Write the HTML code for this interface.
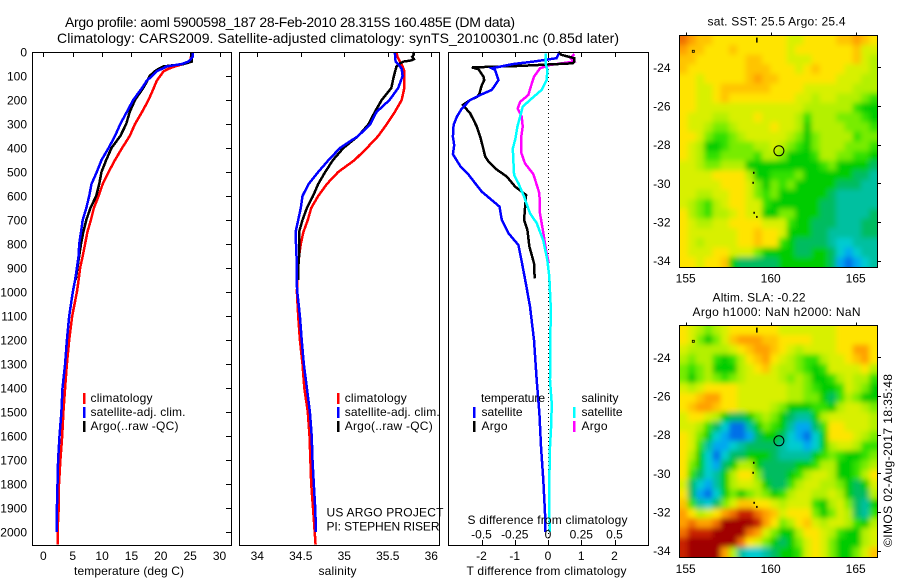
<!DOCTYPE html>
<html>
<head>
<meta charset="utf-8">
<title>Argo profile</title>
<style>
html,body{margin:0;padding:0;background:#fff;}
svg{display:block;font-family:"Liberation Sans",sans-serif;font-size:12px;fill:#000;}
</style>
</head>
<body>
<svg id="chart" xmlns="http://www.w3.org/2000/svg" width="900" height="580" viewBox="0 0 900 580">
<defs>
<filter id="soft" x="-10%" y="-10%" width="120%" height="120%"><feGaussianBlur stdDeviation="2.6"/></filter>
<clipPath id="clip-sst"><rect x="679.5" y="35.5" width="198" height="232"/></clipPath>
<clipPath id="clip-sla"><rect x="679.5" y="325.5" width="198" height="232"/></clipPath>
</defs>
<text x="65" y="27" font-size="14" textLength="450">Argo profile: aoml 5900598_187 28-Feb-2010 28.315S 160.485E (DM data)</text>
<text x="57" y="43" font-size="14" textLength="562">Climatology: CARS2009. Satellite-adjusted climatology: synTS_20100301.nc (0.85d later)</text>

<g id="p1"></g>
<g id="p2"></g>
<g id="p3"></g>
<g id="m1"></g>
<g id="m2"></g>

<g>
<rect x="83" y="393" width="2.5" height="11" fill="#f00"/>
<rect x="83" y="407" width="2.5" height="11" fill="#00f"/>
<rect x="83" y="421" width="2.5" height="11" fill="#000"/>
<text x="90.5" y="402" textLength="62">climatology</text>
<text x="90.5" y="416" textLength="95">satellite-adj. clim.</text>
<text x="90.5" y="430" textLength="88">Argo(..raw -QC)</text>
</g>
<text x="74" y="575" textLength="110">temperature (deg C)</text>

<g>
<rect x="337" y="393" width="2.5" height="11" fill="#f00"/>
<rect x="337" y="407" width="2.5" height="11" fill="#00f"/>
<rect x="337" y="421" width="2.5" height="11" fill="#000"/>
<text x="344.7" y="402" textLength="62">climatology</text>
<text x="344.7" y="416" textLength="95">satellite-adj. clim.</text>
<text x="344.7" y="430" textLength="88">Argo(..raw -QC)</text>
</g>
<text x="326.5" y="516.5" textLength="117">US ARGO PROJECT</text>
<text x="326.5" y="530.5" textLength="113">PI: STEPHEN RISER</text>
<text x="318.5" y="575" textLength="38">salinity</text>

<g>
<text x="481" y="402" textLength="64">temperature</text>
<text x="581.5" y="402" textLength="37">salinity</text>
<rect x="473" y="407" width="2.5" height="11" fill="#00f"/>
<rect x="473" y="421" width="2.5" height="11" fill="#000"/>
<rect x="573" y="407" width="2.5" height="11" fill="#0ff"/>
<rect x="573" y="421" width="2.5" height="11" fill="#f0f"/>
<text x="481.5" y="416" textLength="41">satellite</text>
<text x="481.5" y="430" textLength="26">Argo</text>
<text x="581.5" y="416" textLength="41">satellite</text>
<text x="581.5" y="430" textLength="26">Argo</text>
</g>
<text x="467.5" y="524" textLength="160">S difference from climatology</text>
<text x="466.5" y="575" textLength="160">T difference from climatology</text>

<text x="707.5" y="25.5" textLength="138">sat. SST: 25.5  Argo: 25.4</text>
<text x="712.5" y="301.5" textLength="93">Altim. SLA: -0.22</text>
<text x="692.5" y="316" textLength="168">Argo h1000: NaN h2000: NaN</text>
<text transform="translate(892,547) rotate(-90)" textLength="173">©IMOS 02-Aug-2017 18:35:48</text>
</svg>

<script>
// ---------- profile data ----------
const depthTicks = [0,100,200,300,400,500,600,700,800,900,1000,1100,1200,1300,1400,1500,1600,1700,1800,1900,2000];
const tempTicks = [0,5,10,15,20,25,30];
const salTicks = [34,34.5,35,35.5,36];
const salTickLabels = ['34','34.5','35','35.5','36'];
const dTTicks = [-2,-1,0,1,2];
const dSTicks = [-0.5,-0.25,0,0.25,0.5];
const dSTickLabels = ['-0.5','-0.25','0','0.25','0.5'];

const tempClimDepth = [0,40,50,60,70,80,100,120,150,200,250,300,350,400,450,500,550,600,650,700,750,800,850,900,950,1000,1100,1200,1300,1400,1500,1600,1700,1800,1900,2000,2053];
const tempClim = [25.2,25.1,23.9,22.4,21.3,20.5,19.9,19.3,18.8,17.9,16.8,15.6,14.7,13.4,12.2,11.1,10.1,9.4,8.6,8.1,7.5,7.1,6.7,6.25,6,5.7,4.9,4.4,4,3.7,3.4,3.2,2.9,2.65,2.6,2.4,2.4];
const tempSatDepth = [0,20,40,50,60,70,80,100,120,150,200,250,300,350,400,450,500,550,600,650,700,750,800,850,900,950,1000,1100,1200,1300,1400,1500,1600,1700,1800,1900,2000];
const tempSat = [25.45,25.45,24.7,23.6,21,20.2,19.3,18.5,17.6,16.8,15.3,14.2,13.1,12.2,11.1,9.9,9.1,8.2,7.8,7.3,6.7,6.4,6.1,6,5.7,5.4,5,4.4,4,3.7,3.25,3.07,2.75,2.5,2.4,2.3,2.3];
const tempArgoDepth = [0,40,50,60,70,80,100,120,150,200,250,300,350,400,450,500,550,600,650,700,750,800,850,900,950];
const tempArgo = [25.3,25.3,23.9,20.5,19.6,19,18.1,17.7,17,15.6,14.7,14.1,13.1,11.6,10.7,9.9,9.5,9,8,7.3,6.8,6.4,6.1,5.8,5.5];

const salClimDepth = [0,20,40,60,80,100,150,200,250,300,350,400,450,500,550,600,650,700,750,800,850,900,950,1000,1100,1200,1300,1400,1500,1600,1700,1800,1900,2000,2053];
const salClim = [35.6,35.61,35.64,35.67,35.69,35.69,35.69,35.66,35.58,35.49,35.39,35.26,35.12,34.93,34.8,34.7,34.62,34.58,34.53,34.5,34.48,34.47,34.46,34.455,34.47,34.49,34.52,34.54,34.58,34.6,34.61,34.62,34.64,34.66,34.67];
const salSatDepth = [0,40,50,70,100,150,200,250,300,350,400,450,500,550,600,650,700,750,800,850,900,950,1000,1100,1200,1300,1400,1500,1600,1700,1800,1900,2000];
const salSat = [35.58,35.59,35.62,35.66,35.67,35.62,35.52,35.37,35.3,35.16,34.95,34.82,34.7,34.59,34.52,34.5,34.47,34.44,34.445,34.45,34.45,34.45,34.46,34.49,34.51,34.535,34.57,34.605,34.625,34.635,34.65,34.665,34.675];
const salArgoDepth = [0,10,20,30,35,40,50,60,100,150,200,250,300,350,400,450,500,550,600,650,700,750,800,850,900,950];
const salArgo = [35.79,35.8,35.78,35.8,35.77,35.68,35.63,35.6,35.57,35.54,35.43,35.35,35.28,35.16,34.99,34.87,34.78,34.7,34.64,34.57,34.52,34.48,34.48,34.48,34.47,34.47];

const dTArgoDepth = [0,12,26,40,47,58,64,72,103,117,138,172,186,200,221,256,283,311,353,394,436,456,490,519,561,596,644,700,742,811,880,943];
const dTArgo = [0.31,0.41,0.79,0.79,0.74,-0.84,-2.29,-2.09,-1.94,-1.92,-1.99,-2.06,-2.12,-2.34,-2.56,-2.34,-2.24,-2.14,-2.04,-1.96,-1.89,-1.79,-1.54,-1.24,-0.99,-0.66,-0.69,-0.72,-0.62,-0.56,-0.42,-0.4];
const dTSatDepth = [6,26,40,50,68,75,117,158,179,200,235,269,304,353,388,426,475,511,547,582,617,644,700,755,804,873,970,1061,1200,1367,1505,1644,1783,1922,2000];
const dTSat = [0.33,0.26,-0.44,-1.04,-1.69,-1.59,-1.49,-1.69,-2.04,-2.34,-2.59,-2.74,-2.84,-2.86,-2.82,-2.86,-2.64,-2.39,-2.19,-1.99,-1.69,-1.46,-1.39,-1.19,-0.89,-0.79,-0.66,-0.54,-0.42,-0.34,-0.26,-0.21,-0.14,-0.09,-0.08];
const dSSatDepth = [6,47,75,117,158,200,228,269,311,361,403,456,512,548,603,672,713,786,866,936,1061,1367,1464,1547,1644,1783,1922,2000];
const dSSat = [-0.015,-0.018,-0.005,-0.01,-0.048,-0.135,-0.19,-0.21,-0.23,-0.245,-0.265,-0.26,-0.255,-0.222,-0.18,-0.135,-0.085,-0.035,-0.005,0.01,0.02,0.015,0.028,0.025,0.015,0.01,0.01,0.015];
const dSArgoDepth = [8,26,40,54,68,103,146,179,208,236,269,311,361,417,464,509,589,673,753,825,880];
const dSArgo = [0.198,0.17,0.195,0.015,-0.06,-0.105,-0.13,-0.148,-0.21,-0.228,-0.198,-0.19,-0.203,-0.203,-0.173,-0.11,-0.065,-0.06,-0.035,-0.015,0.005];

// ---------- map data ----------
const lonTicks = [155,160,165];
const latTicks = [-24,-26,-28,-30,-32,-34];
const floatLon = [160.485];
const floatLat = [-28.315];
const coastLon = [159.2,155.45,159.02,158.98,159.04,159.2];
const coastLat = [-22.54,-23.2,-29.48,-30,-31.55,-31.76];

// Colour level of each half-degree cell, north to south.
const sstRows = [
[13,12,11,11,10,10,10,10,10,10,10,10,10,9,9,10,10,10,10,11,11,12,11,10],
[12,11,11,10,10,10,11,10,10,10,10,10,10,9,10,10,10,10,10,10,10,11,9,9],
[11,11,10,10,10,10,10,10,11,11,10,10,10,9,9,9,10,10,10,10,10,11,9,8],
[11,10,10,10,10,10,10,10,11,11,11,10,10,10,9,10,11,10,10,10,9,9,9,8],
[10,10,9,10,10,10,10,10,11,12,11,11,10,10,10,10,10,10,10,9,9,9,8,8],
[10,10,9,9,10,11,11,11,11,11,11,10,10,10,10,9,9,9,9,9,9,8,8,8],
[10,10,9,9,10,11,10,10,10,10,10,10,10,10,9,9,8,9,9,8,8,8,7,6],
[10,10,9,9,9,9,9,9,9,9,9,9,9,9,9,8,8,8,8,8,8,6,5,5],
[10,9,9,9,8,8,9,9,9,10,9,9,9,9,8,6,8,8,8,7,7,7,6,5],
[10,9,9,8,7,7,8,9,9,9,9,10,9,9,8,5,8,8,8,8,7,7,7,6],
[10,10,9,7,6,6,7,8,9,9,9,9,9,8,7,5,7,8,8,8,8,6,7,7],
[10,9,8,5,5,6,7,7,7,8,8,9,8,7,6,5,7,8,8,8,7,7,7,6],
[10,9,8,6,6,7,7,7,7,6,8,8,7,5,5,5,6,8,8,7,7,6,6,5],
[9,9,8,7,7,8,8,8,5,5,5,5,5,5,5,5,5,6,7,5,5,5,5,4],
[9,9,9,9,10,10,10,10,8,5,5,6,6,6,7,5,5,5,5,5,5,4,4,3],
[9,9,9,9,9,10,10,10,9,7,5,7,6,7,5,5,5,5,5,4,4,4,3,3],
[9,9,8,8,9,9,10,10,9,7,6,7,5,5,5,5,5,5,4,3,3,3,3,3],
[9,8,7,6,8,9,10,10,9,9,6,5,5,5,5,5,5,4,4,3,3,3,3,3],
[10,8,7,6,8,8,9,10,9,9,5,5,7,7,5,5,5,4,4,3,3,3,3,4],
[10,9,8,8,9,9,10,10,10,10,9,9,9,6,5,5,4,4,4,3,3,3,4,4],
[10,9,9,9,9,9,9,10,10,11,10,10,9,5,5,5,4,4,3,3,3,3,4,4],
[10,9,8,9,9,9,9,10,10,11,10,10,6,5,4,4,4,4,3,2,2,3,3,3],
[10,9,9,9,10,10,9,9,9,7,5,5,5,5,4,4,5,5,4,2,1,2,3,3],
[10,10,9,10,10,11,5,4,4,4,4,4,5,5,5,5,5,5,4,1,0,1,2,3]
];
const slaRows = [
[10,9,8,7,8,9,10,10,10,10,10,10,9,9,9,9,9,9,9,10,10,10,10,10],
[10,9,7,5,7,9,11,12,12,12,11,11,10,10,10,10,9,9,9,10,10,10,10,10],
[9,8,8,8,8,8,9,10,11,12,12,11,10,9,8,9,9,9,9,10,10,12,12,10],
[8,7,8,8,6,5,6,8,10,11,12,10,9,8,7,6,6,8,9,9,10,11,12,10],
[7,6,7,8,5,5,5,8,9,10,11,9,8,8,7,6,5,6,9,9,9,9,10,8],
[7,5,7,8,7,6,7,8,9,9,9,9,8,7,8,7,5,5,6,8,9,8,8,6],
[9,8,9,10,10,10,10,9,9,9,9,9,9,8,8,7,6,5,5,6,9,8,7,5],
[10,10,11,12,12,10,10,9,9,9,9,9,9,8,8,7,7,5,4,6,8,7,5,5],
[10,11,12,12,11,10,10,9,9,9,9,8,7,5,5,5,6,6,5,8,9,9,8,7],
[9,10,10,9,8,5,4,4,5,7,8,7,5,4,3,3,5,8,9,9,9,9,9,8],
[9,9,8,6,4,2,0,0,3,5,7,6,5,3,1,1,4,6,10,10,9,9,9,8],
[10,9,7,5,2,1,0,0,1,4,5,5,4,2,1,0,2,5,10,10,10,9,8,7],
[10,9,6,3,1,1,2,3,4,4,4,4,3,2,2,1,2,5,8,9,9,8,6,6],
[10,8,5,2,0,2,4,4,5,5,5,4,3,3,3,3,5,6,7,6,5,5,6,7],
[10,7,5,2,1,4,5,8,8,5,4,4,4,4,5,5,6,8,8,5,5,6,7,8],
[10,6,4,2,3,5,8,10,10,7,4,4,4,5,6,8,9,9,8,5,5,6,8,10],
[9,4,2,1,3,5,8,9,9,8,5,4,4,6,8,9,9,8,8,7,5,4,5,9],
[10,4,1,0,2,5,7,5,7,8,7,5,6,8,9,9,8,8,9,8,5,4,4,8],
[11,6,3,2,4,7,9,11,11,10,10,9,8,9,9,9,6,5,8,9,7,4,3,5],
[12,10,8,9,10,12,13,14,14,13,12,11,9,10,10,10,7,5,7,9,8,4,3,6],
[12,13,12,12,13,15,15,15,15,14,12,10,7,8,10,11,9,8,9,9,8,6,5,8],
[13,14,14,14,15,15,15,15,13,12,9,7,5,5,8,10,10,9,8,6,5,5,8,9],
[14,15,15,15,15,15,15,13,10,9,7,5,4,5,7,9,10,9,7,5,5,5,8,9],
[14,15,15,15,15,12,8,3,2,2,3,4,5,5,6,9,10,9,7,5,5,7,9,11]
];

// ---------- scales and helpers ----------
const NS = 'http://www.w3.org/2000/svg';
const levelColors = ['#0070e8','#00a8f0','#00ccd0','#00c0a0','#00bc60','#00cc00','#30e000','#78ec00','#b4f000','#d8f000','#ffe400','#ffc400','#ffa000','#f07000','#c82000','#a00000'];
const yDepth = d => 52 + 0.24 * d;
const xTemp = t => 43.4 + 5.87 * t;
const xSal = s => 257.3 + 87 * (s - 34);
const xDT = t => 548 + 33.25 * t;
const xDS = s => 548 + 133 * s;
const xLon = lon => 685.7 + 17 * (lon - 155);
const ySst = lat => 67.3 + 19.34 * (-24 - lat);
const ySla = lat => 357.3 + 19.34 * (-24 - lat);

function node(tag, parent) {
  const el = document.createElementNS(NS, tag);
  parent.appendChild(el);
  return el;
}
function label(parent, name, str, x, y, anchor) {
  const t = node('text', parent);
  
  
  t.setAttribute('x', x);
  t.setAttribute('y', y);
  t.setAttribute('text-anchor', anchor);
  t.textContent = str;
}
function seg(parent, name, x1, y1, x2, y2) {
  const l = node('line', parent);
  
  
  l.setAttribute('x1', x1);
  l.setAttribute('y1', y1);
  l.setAttribute('x2', x2);
  l.setAttribute('y2', y2);
  l.setAttribute('stroke', '#000');
  l.setAttribute('shape-rendering', 'crispEdges');
}
function frame(parent, name, x1, y1, x2, y2) {
  const r = node('rect', parent);
  
  
  r.setAttribute('x', x1);
  r.setAttribute('y', y1);
  r.setAttribute('width', x2 - x1);
  r.setAttribute('height', y2 - y1);
  r.setAttribute('fill', 'none');
  r.setAttribute('stroke', '#000');
  r.setAttribute('shape-rendering', 'crispEdges');
}
function profile(parent, name, depths, values, xFn, color, width) {
  const p = node('polyline', parent);
  
  
  p.setAttribute('points', values.map((v, i) => xFn(v).toFixed(1) + ',' + yDepth(depths[i]).toFixed(1)).join(' '));
  p.setAttribute('fill', 'none');
  p.setAttribute('stroke', color);
  p.setAttribute('stroke-width', width);
  p.setAttribute('shape-rendering', 'crispEdges');
}

// ---------- temperature panel ----------
const p1 = document.getElementById('p1');
profile(p1, 'temperature-climatology-line', tempClimDepth, tempClim, xTemp, '#f00', 2.5);
profile(p1, 'temperature-argo-line', tempArgoDepth, tempArgo, xTemp, '#000', 2.5);
profile(p1, 'temperature-satellite-line', tempSatDepth, tempSat, xTemp, '#00f', 2.5);
frame(p1, 'temperature-plot-frame', 32.5, 52.5, 231.5, 545.5);
depthTicks.forEach(d => {
  label(p1, 'depth-tick-label', String(d), 27, yDepth(d) + 4.5, 'end');
  seg(p1, 'depth-tick', 226, Math.round(yDepth(d)) + 0.5, 231, Math.round(yDepth(d)) + 0.5);
});
tempTicks.forEach(t => {
  label(p1, 'temperature-tick-label', String(t), xTemp(t), 560, 'middle');
  seg(p1, 'temperature-tick', Math.round(xTemp(t)) + 0.5, 52, Math.round(xTemp(t)) + 0.5, 57);
});

// ---------- salinity panel ----------
const p2 = document.getElementById('p2');
profile(p2, 'salinity-climatology-line', salClimDepth, salClim, xSal, '#f00', 2.5);
profile(p2, 'salinity-argo-line', salArgoDepth, salArgo, xSal, '#000', 2.5);
profile(p2, 'salinity-satellite-line', salSatDepth, salSat, xSal, '#00f', 2.5);
frame(p2, 'salinity-plot-frame', 239.5, 52.5, 439.5, 545.5);
salTicks.forEach((s, i) => {
  label(p2, 'salinity-tick-label', salTickLabels[i], xSal(s), 560, 'middle');
  seg(p2, 'salinity-tick', Math.round(xSal(s)) + 0.5, 52, Math.round(xSal(s)) + 0.5, 57);
});

// ---------- difference panel ----------
const p3 = document.getElementById('p3');
const zero = node('line', p3);


zero.setAttribute('x1', xDT(0) + 0.5);
zero.setAttribute('y1', 53);
zero.setAttribute('x2', xDT(0) + 0.5);
zero.setAttribute('y2', 545);
zero.setAttribute('stroke', '#000');
zero.setAttribute('stroke-dasharray', '1 3');
zero.setAttribute('shape-rendering', 'crispEdges');
profile(p3, 'salinity-diff-argo-line', dSArgoDepth, dSArgo, xDS, '#f0f', 2.5);
profile(p3, 'temperature-diff-argo-line', dTArgoDepth, dTArgo, xDT, '#000', 2.5);
profile(p3, 'temperature-diff-satellite-line', dTSatDepth, dTSat, xDT, '#00f', 2.5);
profile(p3, 'salinity-diff-satellite-line', dSSatDepth, dSSat, xDS, '#0ff', 2.5);
frame(p3, 'difference-plot-frame', 448.5, 52.5, 648.5, 545.5);
dTTicks.forEach(t => {
  label(p3, 't-difference-tick-label', String(t), xDT(t), 560, 'middle');
  seg(p3, 't-difference-tick-bottom', Math.round(xDT(t)) + 0.5, 540, Math.round(xDT(t)) + 0.5, 545);
  seg(p3, 't-difference-tick-top', Math.round(xDT(t)) + 0.5, 52, Math.round(xDT(t)) + 0.5, 57);
});
dSTicks.forEach((s, i) => {
  label(p3, 's-difference-tick-label', dSTickLabels[i], xDS(s), 538.5, 'middle');
});

// ---------- maps ----------
const cellLonStart = 154.63;
const cellLonStep = 0.4854;
const cellLatStart = -22.345;
const cellLatStep = 0.4988;
function heatmap(groupId, rows, yLat, clipId, cellName, frameName, top, bottom, tickBaseline) {
  const g = document.getElementById(groupId);
  const clip = node('g', g);
  clip.setAttribute('clip-path', 'url(#' + clipId + ')');
  const soft = node('g', clip);
  soft.setAttribute('filter', 'url(#soft)');
  rows.forEach((row, r) => {
    row.forEach((v, c) => {
      let x0 = xLon(cellLonStart + c * cellLonStep);
      let x1 = xLon(cellLonStart + (c + 1) * cellLonStep);
      let y0 = yLat(cellLatStart - r * cellLatStep);
      let y1 = yLat(cellLatStart - (r + 1) * cellLatStep);
      if (c === 0) x0 -= 12;
      if (c === row.length - 1) x1 += 12;
      if (r === 0) y0 -= 12;
      if (r === rows.length - 1) y1 += 12;
      const cell = node('rect', soft);
      
      
      cell.setAttribute('x', x0.toFixed(2));
      cell.setAttribute('y', y0.toFixed(2));
      cell.setAttribute('width', (x1 - x0 + 0.4).toFixed(2));
      cell.setAttribute('height', (y1 - y0 + 0.4).toFixed(2));
      cell.setAttribute('fill', levelColors[v]);
    });
  });
  coastLon.forEach((lon, i) => {
    const m = node('rect', g);
    
    
    m.setAttribute('x', (xLon(lon) - 1).toFixed(1));
    m.setAttribute('y', (yLat(coastLat[i]) - 1.5).toFixed(1));
    m.setAttribute('width', i === 1 ? 2 : 1.5);
    m.setAttribute('height', i === 0 ? 5 : 2);
    m.setAttribute('fill', i === 1 ? 'none' : '#000');
    m.setAttribute('stroke', i === 1 ? '#000' : 'none');
    m.setAttribute('stroke-width', '0.8');
  });
  floatLon.forEach((lon, i) => {
    const c = node('circle', g);
    
    
    c.setAttribute('cx', xLon(lon).toFixed(1));
    c.setAttribute('cy', yLat(floatLat[i]).toFixed(1));
    c.setAttribute('r', 5);
    c.setAttribute('fill', 'none');
    c.setAttribute('stroke', '#000');
  });
  frame(g, frameName, 679.5, top, 877.5, bottom);
  lonTicks.forEach(lon => {
    label(g, 'longitude-tick-label', String(lon), xLon(lon), tickBaseline, 'middle');
    seg(g, 'longitude-tick', Math.round(xLon(lon)) + 0.5, top - 3, Math.round(xLon(lon)) + 0.5, top);
  });
  latTicks.forEach(lat => {
    label(g, 'latitude-tick-label', String(lat), 670.5, yLat(lat) + 4.5, 'end');
    seg(g, 'latitude-tick', 878, Math.round(yLat(lat)) + 0.5, 881, Math.round(yLat(lat)) + 0.5);
  });
}
heatmap('m1', sstRows, ySst, 'clip-sst', 'sst-cell', 'sst-map-frame', 35.5, 267.5, 282.5);
heatmap('m2', slaRows, ySla, 'clip-sla', 'sla-cell', 'sla-map-frame', 325.5, 557.5, 573);
</script>
</body>
</html>
